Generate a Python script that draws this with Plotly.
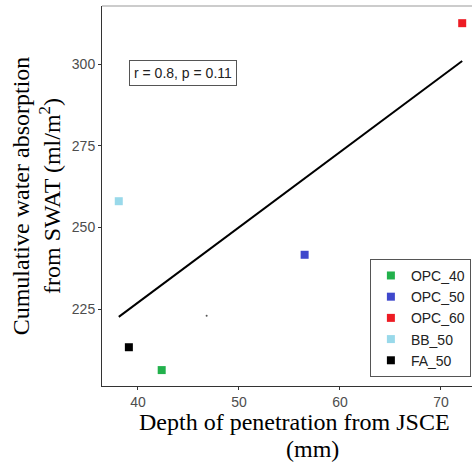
import plotly.graph_objects as go

# Data
groups = ["OPC_40", "OPC_50", "OPC_60", "BB_50", "FA_50"]
depth_mm = [42.35, 56.5, 72.1, 38.1, 39.1]
absorption = [206.3, 241.6, 312.5, 258.0, 213.3]
colors = ["#22b14c", "#3f48cc", "#ed1c24", "#99d9ea", "#000000"]

fit_x = [38.1, 72.1]
fit_y = [222.6, 300.9]

stray_x = [46.8]
stray_y = [222.9]

x_ticks = [40, 50, 60, 70]
y_ticks = [225, 250, 275, 300]

stat_label = "r = 0.8, p = 0.11"
x_title_line1 = "Depth of penetration from JSCE"
x_title_line2 = "(mm)"
y_title = "Cumulative water absorption<br>from SWAT (ml/m<sup>2</sup>)"

fig = go.Figure()

fig.add_trace(go.Scatter(x=fit_x, y=fit_y, mode="lines",
                         line=dict(color="black", width=2), showlegend=False,
                         hoverinfo="skip"))
fig.add_trace(go.Scatter(x=stray_x, y=stray_y, mode="markers",
                         marker=dict(color="#555555", size=2), showlegend=False,
                         hoverinfo="skip"))

for g, xv, yv, c in zip(groups, depth_mm, absorption, colors):
    fig.add_trace(go.Scatter(x=[xv], y=[yv], mode="markers", name=g,
                             marker=dict(symbol="square", size=8, color=c,
                                         line=dict(width=0))))

tick_font = dict(family="Arial", size=14, color="#4d4d4d")
title_font = dict(family="Liberation Serif, Times New Roman", size=24, color="black")

fig.update_layout(
    width=472, height=468,
    margin=dict(l=102, r=0, t=6, b=82, autoexpand=False),
    plot_bgcolor="white", paper_bgcolor="white",
    showlegend=True,
    legend=dict(x=0.997, y=0.024, xanchor="right", yanchor="bottom",
                bordercolor="#555555", borderwidth=1, bgcolor="white",
                font=dict(family="Arial", size=14, color="#222222"),
                tracegroupgap=0, itemwidth=30),
    xaxis=dict(range=[36.44, 73.07], tickvals=x_ticks, ticks="outside", ticklen=3,
               tickcolor="#333333", showline=True, linecolor="#333333", linewidth=1,
               showgrid=False, zeroline=False, tickfont=tick_font, automargin=False,
               ticklabeloverflow="allow"),
    yaxis=dict(range=[201.43, 317.76], tickvals=y_ticks, ticks="outside", ticklen=3,
               tickcolor="#333333", showline=True, linecolor="#333333", linewidth=1,
               showgrid=False, zeroline=False, tickfont=tick_font, automargin=False,
               title=dict(text=y_title, font=title_font, standoff=4)),
    shapes=[dict(type="line", xref="paper", yref="paper", x0=0, x1=1, y0=1, y1=1,
                 line=dict(color="#999999", width=1))],
    annotations=[
        dict(x=44.46, y=297.4, xref="x", yref="y", text=stat_label,
             showarrow=False, bordercolor="#555555", borderwidth=1,
             borderpad=4, bgcolor="white",
             font=dict(family="Arial", size=14, color="#222222")),
        dict(x=0.519, y=-0.095, xref="paper", yref="paper", text=x_title_line1,
             showarrow=False, xanchor="center", yanchor="middle", font=title_font),
        dict(x=0.570, y=-0.166, xref="paper", yref="paper", text=x_title_line2,
             showarrow=False, xanchor="center", yanchor="middle", font=title_font),
    ],
)

fig.write_html("out.html")
